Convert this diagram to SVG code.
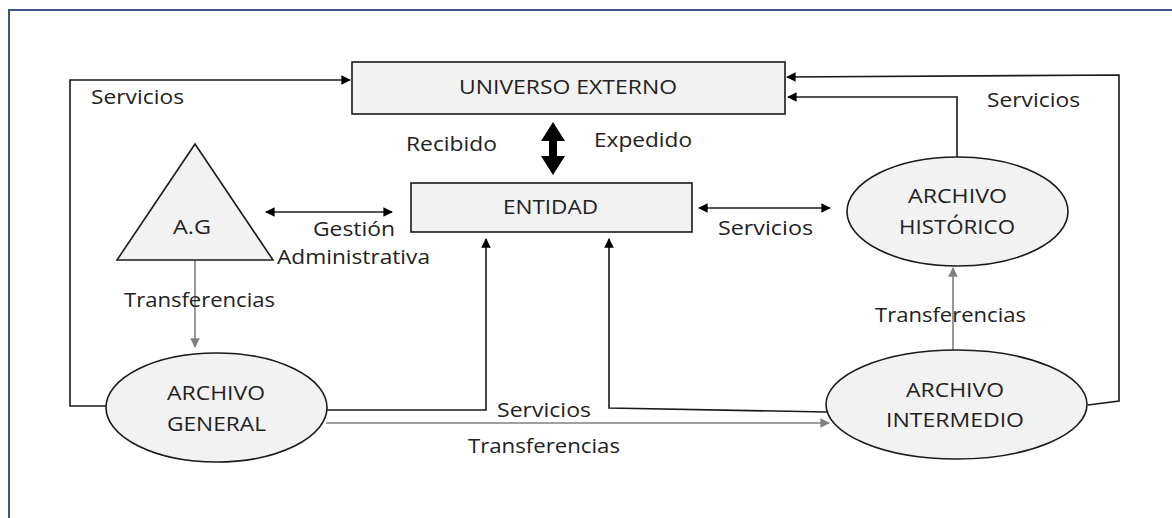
<svg xmlns="http://www.w3.org/2000/svg" width="1172" height="518" viewBox="0 0 1172 518">
<style>
.shape{fill:#f2f2f2;stroke:#1a1a1a;stroke-width:1.6}
.t{font-family:"Open Sans","Liberation Sans",sans-serif;font-size:20px;fill:#222}
.c{text-anchor:middle}
.ln{fill:none;stroke:#1a1a1a;stroke-width:1.6}
.gl{fill:none;stroke:#808080;stroke-width:1.6}
</style>
<defs>
<marker id="ah" viewBox="0 0 10 10" refX="9" refY="5" markerWidth="7" markerHeight="6" markerUnits="strokeWidth" orient="auto-start-reverse">
<path d="M0,0 L10,5 L0,10 z" fill="#000"/>
</marker>
<marker id="gh" viewBox="0 0 10 10" refX="9" refY="5" markerWidth="7" markerHeight="6" markerUnits="strokeWidth" orient="auto-start-reverse">
<path d="M0,0 L10,5 L0,10 z" fill="#808080"/>
</marker>
</defs>
<rect width="1172" height="518" fill="#fff"/>
<path d="M9,520 V10 H1172" fill="none" stroke="#3b5682" stroke-width="2"/>

<g id="connectors">
<path class="ln" d="M106,406 H70 V80 H350" marker-end="url(#ah)"/>
<path class="ln" d="M327,410 H486 V239" marker-end="url(#ah)"/>
<path class="ln" d="M827,412 L609,408 V239" marker-end="url(#ah)"/>
<path class="gl" d="M326,423 H829" marker-end="url(#gh)"/>
<path class="gl" d="M195,260 V347" marker-end="url(#gh)"/>
<path class="gl" d="M953,350 V268" marker-end="url(#gh)"/>
<path class="ln" d="M957,157 V97 H788" marker-end="url(#ah)"/>
<path class="ln" d="M1088,405 L1119,401 V75 L787,77" marker-end="url(#ah)"/>
<path class="ln" d="M266,212 H392" marker-start="url(#ah)" marker-end="url(#ah)"/>
<path class="ln" d="M699,208 H830" marker-start="url(#ah)" marker-end="url(#ah)"/>
<polygon points="553,122 565,141 557,141 557,156 565,156 553,175 541,156 549,156 549,141 541,141" fill="#000"/>
</g>

<g id="universo">
<rect class="shape" x="352" y="62" width="433" height="52"/>
<text class="t c" x="568" y="94" textLength="218" lengthAdjust="spacingAndGlyphs">UNIVERSO EXTERNO</text>
</g>
<g id="entidad">
<rect class="shape" x="411" y="183" width="281" height="49"/>
<text class="t c" x="550.5" y="214" textLength="95" lengthAdjust="spacingAndGlyphs">ENTIDAD</text>
</g>
<g id="ag">
<polygon class="shape" points="195,144 273,260 117,260"/>
<text class="t c" x="192" y="234" textLength="38" lengthAdjust="spacingAndGlyphs">A.G</text>
</g>
<g id="archivo-general">
<ellipse class="shape" cx="216.5" cy="407.5" rx="110.5" ry="54.5"/>
<text class="t c" x="216" y="400" textLength="98" lengthAdjust="spacingAndGlyphs">ARCHIVO</text>
<text class="t c" x="216.5" y="431" textLength="99" lengthAdjust="spacingAndGlyphs">GENERAL</text>
</g>
<g id="archivo-intermedio">
<ellipse class="shape" cx="956.5" cy="404.5" rx="130.5" ry="54.5"/>
<text class="t c" x="955" y="397" textLength="98" lengthAdjust="spacingAndGlyphs">ARCHIVO</text>
<text class="t c" x="955" y="427" textLength="138" lengthAdjust="spacingAndGlyphs">INTERMEDIO</text>
</g>
<g id="archivo-historico">
<ellipse class="shape" cx="957.5" cy="211.5" rx="110.5" ry="54.5"/>
<text class="t c" x="957.5" y="203" textLength="99" lengthAdjust="spacingAndGlyphs">ARCHIVO</text>
<text class="t c" x="957" y="234" textLength="116" lengthAdjust="spacingAndGlyphs">HISTÓRICO</text>
</g>

<g id="labels">
<text class="t" x="91" y="104" textLength="93" lengthAdjust="spacingAndGlyphs">Servicios</text>
<text class="t" x="406" y="151" textLength="91" lengthAdjust="spacingAndGlyphs">Recibido</text>
<text class="t" x="594" y="147" textLength="98" lengthAdjust="spacingAndGlyphs">Expedido</text>
<text class="t" x="313" y="236" textLength="82" lengthAdjust="spacingAndGlyphs">Gestión</text>
<text class="t" x="277" y="264" textLength="153" lengthAdjust="spacingAndGlyphs">Administrativa</text>
<text class="t" x="718" y="235" textLength="95" lengthAdjust="spacingAndGlyphs">Servicios</text>
<text class="t" x="987" y="107" textLength="93" lengthAdjust="spacingAndGlyphs">Servicios</text>
<text class="t" x="124" y="307" textLength="151" lengthAdjust="spacingAndGlyphs">Transferencias</text>
<text class="t" x="875" y="322" textLength="151" lengthAdjust="spacingAndGlyphs">Transferencias</text>
<text class="t" x="497" y="417" textLength="94" lengthAdjust="spacingAndGlyphs">Servicios</text>
<text class="t" x="468" y="453" textLength="152" lengthAdjust="spacingAndGlyphs">Transferencias</text>
</g>
</svg>
